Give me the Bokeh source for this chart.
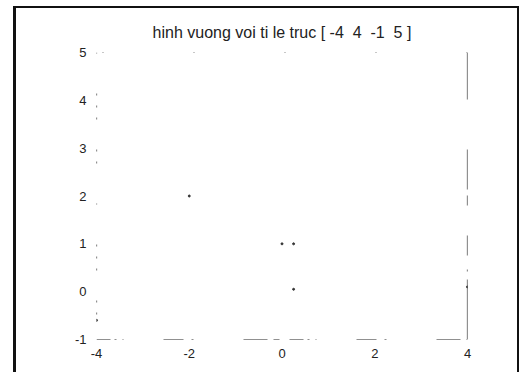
from bokeh.plotting import figure
from bokeh.embed import file_html
from bokeh.resources import INLINE
from bokeh.models import Range1d, FixedTicker

# Data
axis_limits = [-4, 4, -1, 5]
box_x = [-4, 4, 4, -4, -4]
box_y = [-1, -1, 5, 5, -1]
speck_x = [-2.0, 0.0, 0.25, 0.25, -4.0, 4.0]
speck_y = [2.0, 1.0, 1.0, 0.05, -0.6, 0.1]
x_ticks = [-4, -2, 0, 2, 4]
y_ticks = [-1, 0, 1, 2, 3, 4, 5]
title_text = "hinh vuong voi ti le truc [ -4\u00a0\u00a04\u00a0\u00a0-1\u00a0\u00a05 ]"

p = figure(width=524, height=372, output_backend="svg", toolbar_location=None,
           x_range=Range1d(axis_limits[0], axis_limits[1]),
           y_range=Range1d(axis_limits[2], axis_limits[3]),
           min_border_left=96, min_border_right=57, min_border_top=52, min_border_bottom=33,
           title=title_text)

p.background_fill_color = "white"
p.border_fill_color = None
p.outline_line_color = None
p.grid.visible = False

p.title.align = "center"
p.title.text_font = "Liberation Sans"
p.title.text_font_size = "16px"
p.title.text_font_style = "normal"
p.title.text_color = "#222222"
p.title.standoff = 23

for ax in (p.xaxis[0], p.yaxis[0]):
    ax.axis_line_color = None
    ax.major_tick_line_color = None
    ax.minor_tick_line_color = None
    ax.major_label_text_font = "Liberation Sans"
    ax.major_label_text_font_size = "13px"
    ax.major_label_text_color = "#222222"
p.xaxis[0].major_label_standoff = 3
p.yaxis[0].major_label_standoff = 4
p.xaxis[0].ticker = FixedTicker(ticks=x_ticks)
p.yaxis[0].ticker = FixedTicker(ticks=y_ticks)
p.xaxis[0].major_label_overrides = {t: str(t) for t in x_ticks}
p.yaxis[0].major_label_overrides = {t: str(t) for t in y_ticks}

# sides of the axes box, faded as in the scan
sides = [
    (slice(0, 2), "14 4 2 6 1 40 20 8 2 50 24 6 6 10", 1.2),  # bottom
    (slice(1, 3), "60 8 2 14 20 30 10 6 40 50", 1.2),           # right
    (slice(2, 4), "1 90", 1.2),                                 # top
    (slice(3, 5), "1 40 2 10 2 10 2 30 2 10 2 40", 1.2),       # left
]
for sl, dash, w in sides:
    p.line(box_x[sl], box_y[sl], line_color="#222222", line_width=w, line_dash=dash)

p.scatter(speck_x, speck_y, size=2, color="#333333")

# scanned page frame, drawn as page background behind the transparent border area
p.styles = {
    "background-color": "white",
    "background-image": ("linear-gradient(#111,#111), linear-gradient(#111,#111), "
                         "linear-gradient(#111,#111)"),
    "background-size": "3px 372px, 506px 2px, 2px 372px",
    "background-position": "13px 6px, 13px 6px, 517px 6px",
    "background-repeat": "no-repeat",
}

open("out.html", "w").write(file_html(p, INLINE))
